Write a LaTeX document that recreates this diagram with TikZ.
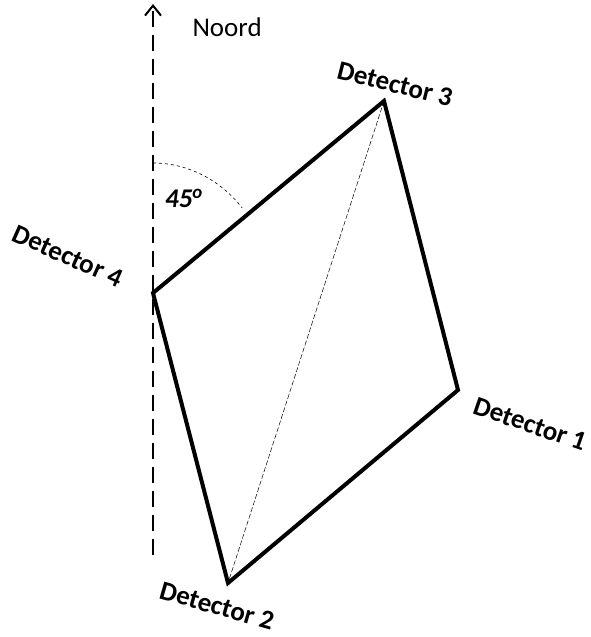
\documentclass[tikz,border=0pt]{standalone}
\usepackage{fontspec}
\setmainfont{Carlito}
\usetikzlibrary{arrows.meta}
\tikzset{
    det/.style={font=\fontsize{27}{30}\selectfont\bfseries, inner sep=0pt},
    side/.style={line width=4pt, line join=miter},
}
\begin{document}
\begin{tikzpicture}[x=1pt, y=1pt]
    \useasboundingbox (0,0) rectangle (591,-637);
    % corner points
    \coordinate (d4) at (153,-293);
    \coordinate (d3) at (384,-101);
    \coordinate (d1) at (458,-390);
    \coordinate (d2) at (228,-583);
    \coordinate (south) at (153,-555);
    \coordinate (north) at (153,-4);

    % north line
    \draw[line width=2pt, dash pattern=on 16pt off 8pt, -{Straight Barb[length=10pt, width=16pt, line width=2pt]}] (south) -- (north);
    \node[font=\fontsize{27}{30}\selectfont, anchor=west] (noord) at (189,-27) {Noord};

    % angle
    \draw[line width=0.6pt, dashed] (153,-163) arc[start angle=90, end angle=41, x radius=118, y radius=130];
    \node[font=\fontsize{27}{30}\selectfont\bfseries\itshape] (hoek) at (184,-198) {45\textsuperscript{o}};

    % sides
    \draw[side] (d4) -- (d3) -- (d1) -- (d2) -- cycle;
    \draw[line width=0.5pt, dash pattern=on 5pt off 2pt] (d3) -- (d2);

    % labels
    \node[det, rotate=-24] (l4) at (68,-256) {Detector 4};
    \node[det, rotate=-14] (l3) at (395,-84) {Detector 3};
    \node[det, rotate=-19] (l1) at (530,-424) {Detector 1};
    \node[det, rotate=-16] (l2) at (217,-606) {Detector 2};
\end{tikzpicture}
\end{document}
